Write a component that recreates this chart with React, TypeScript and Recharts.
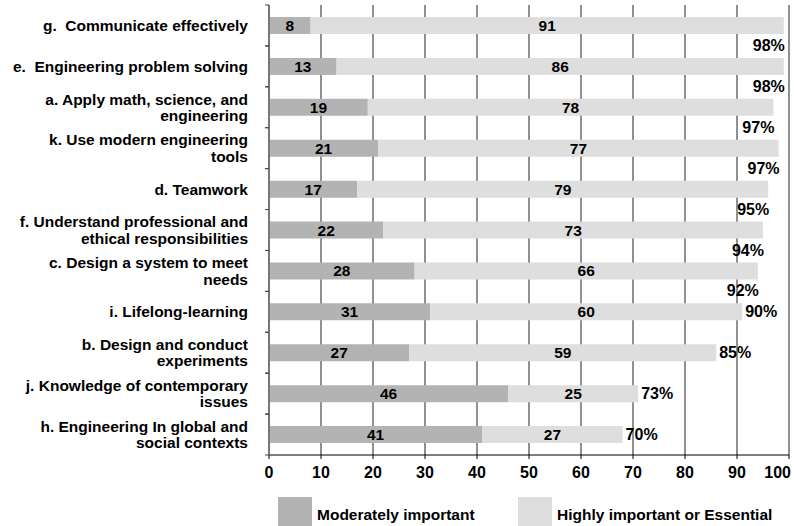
import { BarChart, Bar, XAxis, YAxis, CartesianGrid, LabelList, Legend } from 'recharts';

const categories = [
  'g.  Communicate effectively',
  'e.  Engineering problem solving',
  'a. Apply math, science, and\nengineering',
  'k. Use modern engineering\ntools',
  'd. Teamwork',
  'f. Understand professional and\nethical responsibilities',
  'c. Design a system to meet\nneeds',
  'i. Lifelong-learning',
  'b. Design and conduct\nexperiments',
  'j. Knowledge of contemporary\nissues',
  'h. Engineering In global and\nsocial contexts',
];
const moderately = [8, 13, 19, 21, 17, 22, 28, 31, 27, 46, 41];
const highly = [91, 86, 78, 77, 79, 73, 66, 60, 59, 25, 27];
const totalLabels = ['98%', '98%', '97%', '97%', '95%', '94%', '92%', '90%', '85%', '73%', '70%'];
const xTicks = [0, 10, 20, 30, 40, 50, 60, 70, 80, 90, 100];
const seriesNames = ['Moderately important', 'Highly important or Essential'];

const COLORS = ['#b3b3b3', '#dedede'];
const FONT = '"Liberation Sans", Arial, sans-serif';
const FS = 15.5;
const AXIS_X = 269;

const data = categories.map((name, i) => ({
  name,
  moderately: moderately[i],
  highly: highly[i],
}));

function CategoryTick(props: any) {
  const { y, payload } = props;
  const lines = String(payload.value).split('\n');
  const half = payload.offset || 20.5;
  const lineH = 16.5;
  const startY = y - ((lines.length - 1) * lineH) / 2;
  return (
    <g>
      <line x1={AXIS_X - 4} x2={AXIS_X} y1={y - half} y2={y - half} stroke="#444" />
      <line x1={AXIS_X - 4} x2={AXIS_X} y1={y + half} y2={y + half} stroke="#444" />
      <text
        x={248}
        y={startY}
        textAnchor="end"
        fontFamily={FONT}
        fontWeight="bold"
        fontSize={FS}
        fill="#000"
        style={{ whiteSpace: 'pre' }}
      >
        {lines.map((l, i) => (
          <tspan key={i} x={248} y={startY + i * lineH} dominantBaseline="central">
            {l}
          </tspan>
        ))}
      </text>
    </g>
  );
}

function ValueTick(props: any) {
  const { x, y, payload } = props;
  // last label is kept inside the page edge
  const last = payload.value === xTicks[xTicks.length - 1];
  return (
    <text
      x={last ? x + 2 : x}
      y={y}
      dy="0.71em"
      textAnchor={last ? 'end' : 'middle'}
      fontFamily={FONT}
      fontWeight="bold"
      fontSize={16}
      fill="#000"
    >
      {payload.value}
    </text>
  );
}

function TotalLabel(props: any) {
  const { x, y, width, height, index } = props;
  const text = totalLabels[index];
  const end = Number(x) + Number(width);
  const cy = Number(y) + Number(height) / 2;
  // high totals sit below the bar end, the others to the right of it
  const below = parseInt(text, 10) >= 92;
  return (
    <text
      x={below ? end + 1 : end + 3}
      y={below ? cy + 20 : cy}
      textAnchor={below ? 'end' : 'start'}
      dominantBaseline="central"
      fontFamily={FONT}
      fontWeight="bold"
      fontSize={16}
      fill="#000"
    >
      {text}
    </text>
  );
}

function LegendContent() {
  const items = [
    { name: seriesNames[0], color: COLORS[0], left: 278 },
    { name: seriesNames[1], color: COLORS[1], left: 518 },
  ];
  return (
    <div style={{ position: 'relative', width: 794, height: 41 }}>
      {items.map((it) => (
        <div
          key={it.name}
          style={{ position: 'absolute', left: it.left, top: 12, display: 'flex', alignItems: 'center' }}
        >
          <div style={{ width: 34, height: 36, background: it.color }} />
          <span
            style={{ marginLeft: 5, fontFamily: FONT, fontWeight: 'bold', fontSize: FS, color: '#000', whiteSpace: 'nowrap' }}
          >
            {it.name}
          </span>
        </div>
      ))}
    </div>
  );
}

export default function App() {
  return (
    <div style={{ position: 'absolute', left: 0, top: 0, width: 794, height: 526, background: '#fff', overflow: 'hidden' }}>
      <BarChart
        width={794}
        height={526}
        data={data}
        layout="vertical"
        margin={{ top: 5, right: 5, left: 0, bottom: 0 }}
        barCategoryGap={12}
      >
        <CartesianGrid horizontal={false} vertical stroke="#222" strokeWidth={1} />
        <XAxis
          type="number"
          domain={[0, 100]}
          ticks={xTicks}
          interval={0}
          height={30}
          tickSize={4}
          tickMargin={8}
          axisLine={{ stroke: '#000' }}
          tickLine={{ stroke: '#000' }}
          tick={<ValueTick />}
        />
        <YAxis
          type="category"
          dataKey="name"
          width={AXIS_X}
          interval={0}
          tickLine={false}
          axisLine={{ stroke: '#777', strokeWidth: 2 }}
          tick={<CategoryTick />}
        />
        <Legend verticalAlign="bottom" height={41} wrapperStyle={{ left: 0, bottom: 0, width: 794 }} content={<LegendContent />} />
        <Bar dataKey="moderately" name={seriesNames[0]} stackId="a" fill={COLORS[0]} isAnimationActive={false}>
          <LabelList dataKey="moderately" position="center" fill="#000" fontFamily={FONT} fontWeight="bold" fontSize={FS} />
        </Bar>
        <Bar dataKey="highly" name={seriesNames[1]} stackId="a" fill={COLORS[1]} isAnimationActive={false}>
          <LabelList dataKey="highly" position="center" fill="#000" fontFamily={FONT} fontWeight="bold" fontSize={FS} />
          <LabelList dataKey="highly" content={<TotalLabel />} />
        </Bar>
      </BarChart>
    </div>
  );
}
